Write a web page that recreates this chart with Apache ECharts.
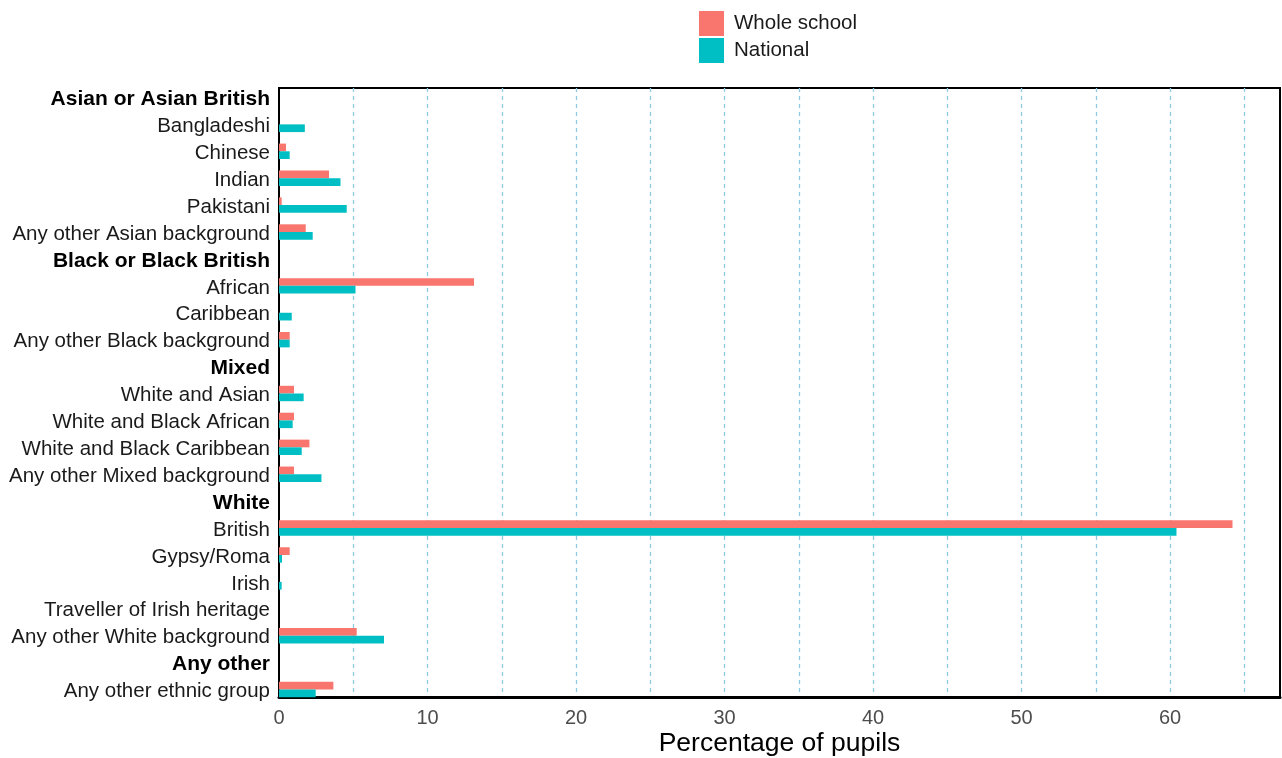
<!DOCTYPE html>
<html>
<head>
<meta charset="utf-8">
<script src="https://cdn.jsdelivr.net/npm/echarts@6/dist/echarts.min.js"></script>
<style>html,body{margin:0;padding:0;background:#fff;}#c{width:1282px;height:758px;}</style>
</head>
<body>
<div id="c"></div>
<script>
const categories = ['Asian or Asian British','Bangladeshi','Chinese','Indian','Pakistani','Any other Asian background','Black or Black British','African','Caribbean','Any other Black background','Mixed','White and Asian','White and Black African','White and Black Caribbean','Any other Mixed background','White','British','Gypsy/Roma','Irish','Traveller of Irish heritage','Any other White background','Any other','Any other ethnic group'];
const groupHeaders = ['Asian or Asian British','Black or Black British','Mixed','White','Any other'];
const wholeSchool = [null,0,0.47,3.37,0.18,1.8,null,13.13,0,0.72,null,1.01,1.01,2.05,1.01,null,64.2,0.72,0,0,5.23,null,3.66];
const national = [null,1.74,0.72,4.14,4.56,2.27,null,5.15,0.86,0.72,null,1.66,0.92,1.53,2.86,null,60.43,0.2,0.18,0,7.07,null,2.47];
const xMax = 67.4;
const xTickInterval = 5;
const xLabelEvery = 10;

const chart = echarts.init(document.getElementById('c'));
const font = 'Liberation Sans, Arial, sans-serif';
chart.setOption({
  animation: false,
  textStyle: {fontFamily: font},
  legend: {
    orient: 'vertical', left: 694, top: 6,
    itemWidth: 25, itemHeight: 25, itemGap: 2,
    icon: 'rect',
    textStyle: {fontSize: 20.5, color: '#1a1a1a', fontFamily: font, padding: [6,0,0,5]},
    data: ['Whole school', 'National']
  },
  grid: [
    {left: 279, right: 2, top: 84, bottom: 55, outerBoundsMode: 'none', containLabel: false},
    {left: 279, right: 2, top: 88, bottom: 61, outerBoundsMode: 'none', containLabel: false,
     show: true, borderColor: '#000', borderWidth: 2, backgroundColor: 'transparent'}
  ],
  xAxis: [
    {gridIndex: 0, type: 'value', min: 0, max: xMax, show: false},
    {gridIndex: 1, type: 'value', min: 0, max: xMax, interval: xTickInterval,
     axisLine: {show: true, lineStyle: {color: '#000', width: 3}},
     axisTick: {show: false},
     axisLabel: {fontSize: 20, color: '#4d4d4d', margin: 11, fontFamily: font,
       formatter: v => (v % xLabelEvery === 0 ? String(v) : '')},
     splitLine: {show: true, showMinLine: false, showMaxLine: false, lineStyle: {color: '#8fcbe3', width: 1.3, type: [4, 4]}},
     name: 'Percentage of pupils', nameLocation: 'middle', nameGap: 33, nameMoveOverlap: false,
     nameTextStyle: {fontSize: 26.5, color: '#000', fontFamily: font}
    }
  ],
  yAxis: [
    {gridIndex: 0, type: 'category', data: categories, inverse: true,
     axisLine: {show: false}, axisTick: {show: false}, splitLine: {show: false},
     axisLabel: {fontSize: 20.5, color: '#1a1a1a', margin: 9, fontFamily: font, interval: 0,
       padding: [4, 0, 0, 0],
       formatter: v => groupHeaders.includes(v) ? '{b|' + v + '}' : v,
       rich: {b: {fontWeight: 'bold', fontSize: 21, color: '#000', fontFamily: font}}}
    },
    {gridIndex: 1, type: 'value', show: false}
  ],
  series: [
    {name: 'Whole school', type: 'bar', xAxisIndex: 0, yAxisIndex: 0, data: wholeSchool,
     barWidth: 7.7, barGap: '0%', itemStyle: {color: '#F8766D'}, z: 5},
    {name: 'National', type: 'bar', xAxisIndex: 0, yAxisIndex: 0, data: national,
     barWidth: 7.7, barGap: '0%', itemStyle: {color: '#00BFC4'}, z: 5}
  ]
});
</script>
</body>
</html>
